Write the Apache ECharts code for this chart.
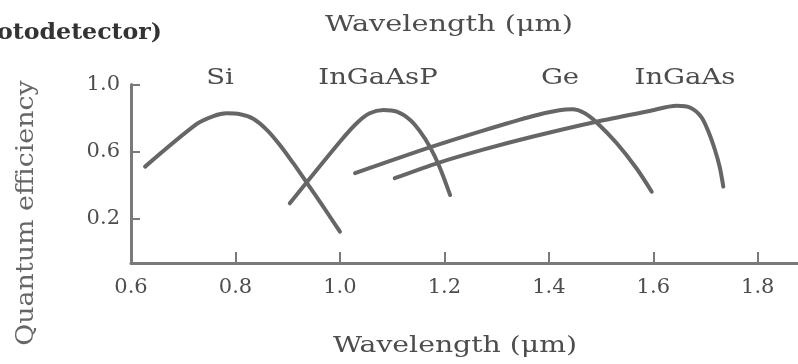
<!DOCTYPE html>
<html>
<head>
<meta charset="utf-8">
<script src="https://cdn.jsdelivr.net/npm/echarts@6/dist/echarts.min.js"></script>
<style>html,body{margin:0;padding:0;background:#fff}#c{width:798px;height:364px}</style>
</head>
<body>
<div id="c"></div>
<script>
// Wavelength (um) / quantum efficiency readings
const siX = [0.627, 0.726, 0.758, 0.783, 0.809, 0.834, 0.860, 0.885, 0.911, 0.936, 0.968, 1.000];
const siY = [0.511, 0.765, 0.812, 0.828, 0.823, 0.796, 0.730, 0.640, 0.530, 0.418, 0.273, 0.124];

const ingaaspX = [0.904, 1.000, 1.032, 1.057, 1.083, 1.109, 1.134, 1.153, 1.172, 1.190, 1.211];
const ingaaspY = [0.293, 0.659, 0.769, 0.828, 0.848, 0.838, 0.790, 0.722, 0.630, 0.515, 0.342];

const geX = [1.029, 1.172, 1.274, 1.370, 1.420, 1.445, 1.468, 1.491, 1.530, 1.568, 1.597];
const geY = [0.472, 0.625, 0.725, 0.812, 0.846, 0.852, 0.830, 0.775, 0.650, 0.500, 0.362];

const ingaasX = [1.105, 1.190, 1.274, 1.370, 1.491, 1.590, 1.645, 1.672, 1.692, 1.706, 1.718, 1.727, 1.734];
const ingaasY = [0.442, 0.535, 0.612, 0.690, 0.778, 0.840, 0.873, 0.860, 0.805, 0.715, 0.610, 0.510, 0.392];

const xTicks = [0.6, 0.8, 1.0, 1.2, 1.4, 1.6, 1.8];
const yTicks = [0.2, 0.6, 1.0];
const seriesNames = ['Si', 'InGaAsP', 'Ge', 'InGaAs'];

const pairs = (xs, ys) => xs.map((x, i) => [x, ys[i]]);
const seriesData = [pairs(siX, siY), pairs(ingaaspX, ingaaspY), pairs(geX, geY), pairs(ingaasX, ingaasY)];

const FONT = '"DejaVu Serif", "Liberation Serif", serif';
const TXT = '#4d4d4d';
const LINE = '#666666';
const AX = '#7a7a7a';

const chart = echarts.init(document.getElementById('c'), null, {renderer: 'canvas'});
chart.setOption({
  animation: false,
  backgroundColor: '#fff',
  grid: {left: 131, right: 0, top: 84.4, bottom: 101, containLabel: false},
  xAxis: {
    type: 'value', min: 0.6, max: 1.877,
    axisLine: {show: true, onZero: false, lineStyle: {color: AX, width: 3}},
    axisTick: {show: true, inside: true, length: 11, customValues: xTicks, lineStyle: {color: AX, width: 2}},
    axisLabel: {customValues: xTicks, formatter: v => v.toFixed(1), color: TXT, fontFamily: FONT, fontSize: 21, margin: 14},
    splitLine: {show: false}
  },
  yAxis: {
    type: 'value', min: -0.062, max: 1.0,
    axisLine: {show: true, onZero: false, lineStyle: {color: AX, width: 3}},
    axisTick: {show: true, inside: true, length: 9, customValues: yTicks, lineStyle: {color: AX, width: 2}},
    axisLabel: {customValues: yTicks, formatter: v => v.toFixed(1), color: TXT, fontFamily: FONT, fontSize: 21, margin: 11},
    splitLine: {show: false}
  },
  series: seriesData.map((d, i) => ({
    name: seriesNames[i], type: 'line', data: d, smooth: 0.3, symbol: 'none',
    lineStyle: {color: LINE, width: 4, cap: 'round'}
  })),
  graphic: [
    {type: 'text', x: -3, y: 33, scaleX: 1.03, style: {text: 'otodetector)', font: 'bold 23px ' + FONT, fill: '#333', verticalAlign: 'middle'}},
    {type: 'text', x: 449, y: 25, scaleX: 1.25, style: {text: 'Wavelength (μm)', font: '23px ' + FONT, fill: TXT, align: 'center', verticalAlign: 'middle'}},
    {type: 'text', x: 455, y: 346, scaleX: 1.23, style: {text: 'Wavelength (μm)', font: '23px ' + FONT, fill: TXT, align: 'center', verticalAlign: 'middle'}},
    {type: 'text', x: 27, y: 213, rotation: Math.PI / 2, scaleX: 1.12, style: {text: 'Quantum efficiency', font: '24px ' + FONT, fill: '#666', align: 'center', verticalAlign: 'middle'}},
    {type: 'text', x: 220, y: 78, scaleX: 1.25, style: {text: seriesNames[0], font: '22px ' + FONT, fill: TXT, align: 'center', verticalAlign: 'middle'}},
    {type: 'text', x: 378, y: 78, scaleX: 1.25, style: {text: seriesNames[1], font: '22px ' + FONT, fill: TXT, align: 'center', verticalAlign: 'middle'}},
    {type: 'text', x: 560, y: 78, scaleX: 1.25, style: {text: seriesNames[2], font: '22px ' + FONT, fill: TXT, align: 'center', verticalAlign: 'middle'}},
    {type: 'text', x: 685, y: 78, scaleX: 1.25, style: {text: seriesNames[3], font: '22px ' + FONT, fill: TXT, align: 'center', verticalAlign: 'middle'}}
  ]
});
</script>
</body>
</html>
